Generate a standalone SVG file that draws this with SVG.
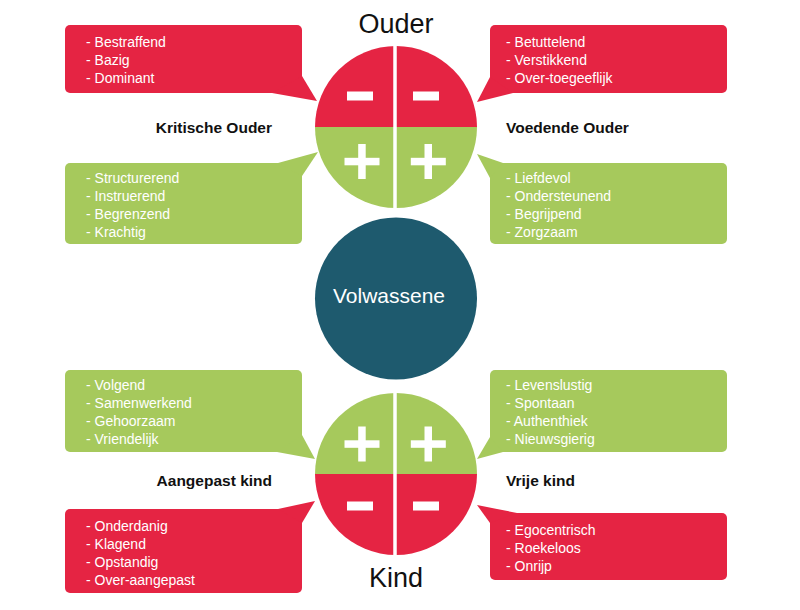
<svg xmlns="http://www.w3.org/2000/svg" width="800" height="610" viewBox="0 0 800 610">
  <style>
    .red { fill: #e52443; }
    .green { fill: #a6c95c; }
    .item { font-family: "Liberation Sans", Arial, sans-serif; font-size: 14px; fill: #ffffff; }
    .label { font-family: "Liberation Sans", Arial, sans-serif; font-size: 15.5px; font-weight: bold; fill: #111111; }
    .title { font-family: "Liberation Sans", Arial, sans-serif; font-size: 27px; fill: #111111; text-anchor: middle; }
    .sign { fill: #ffffff; }
    .gap { stroke: #ffffff; stroke-width: 3.5; }
  </style>
  <rect width="800" height="610" fill="#ffffff"/>

  <!-- titles -->
  <text class="title" x="396" y="33">Ouder</text>
  <text class="title" x="396" y="587">Kind</text>

  <!-- parent circle: four quadrants -->
  <g id="ouder-circle">
    <path class="red" d="M315,127 A81,81 0 0 1 477,127 Z"/>
    <path class="green" d="M315,127 A81,81 0 0 0 477,127 Z"/>
    <line class="gap" x1="395" y1="40" x2="395" y2="215"/>
    <rect class="sign" x="347" y="91.5" width="26" height="9"/>
    <rect class="sign" x="413" y="91.5" width="26" height="9"/>
    <rect class="sign" x="344.5" y="157.8" width="35" height="7.5"/>
    <rect class="sign" x="358.2" y="144" width="7.5" height="35"/>
    <rect class="sign" x="410.8" y="157.8" width="35" height="7.5"/>
    <rect class="sign" x="424.5" y="144" width="7.5" height="35"/>
  </g>

  <!-- adult circle -->
  <g id="volwassene">
    <circle cx="396" cy="298.5" r="81" fill="#1e5a6e"/>
    <text x="389" y="303" font-family="'Liberation Sans', Arial, sans-serif" font-size="21" fill="#ffffff" text-anchor="middle">Volwassene</text>
  </g>

  <!-- child circle: four quadrants -->
  <g id="kind-circle">
    <path class="green" d="M315,474 A81,81 0 0 1 477,474 Z"/>
    <path class="red" d="M315,474 A81,81 0 0 0 477,474 Z"/>
    <line class="gap" x1="395" y1="385" x2="395" y2="562"/>
    <rect class="sign" x="344.5" y="440.3" width="35" height="7.5"/>
    <rect class="sign" x="358.2" y="426.5" width="7.5" height="35"/>
    <rect class="sign" x="410.8" y="440.3" width="35" height="7.5"/>
    <rect class="sign" x="424.5" y="426.5" width="7.5" height="35"/>
    <rect class="sign" x="347" y="501.5" width="26" height="9"/>
    <rect class="sign" x="413" y="501.5" width="26" height="9"/>
  </g>

  <!-- ego-state labels -->
  <text class="label" x="272" y="133" text-anchor="end">Kritische Ouder</text>
  <text class="label" x="506" y="133">Voedende Ouder</text>
  <text class="label" x="272" y="486" text-anchor="end">Aangepast kind</text>
  <text class="label" x="506" y="486">Vrije kind</text>

  <!-- speech bubbles -->
  <g id="kritisch-min">
    <rect class="red" x="65" y="25" width="237" height="68" rx="5"/>
    <polygon class="red" points="272,93 302,76 317,101"/>
    <text class="item" x="86" y="47">- Bestraffend</text>
    <text class="item" x="86" y="65">- Bazig</text>
    <text class="item" x="86" y="83">- Dominant</text>
  </g>

  <g id="kritisch-plus">
    <rect class="green" x="65" y="163" width="237" height="81" rx="5"/>
    <polygon class="green" points="278,163 318,152 302,176"/>
    <text class="item" x="86" y="183">- Structurerend</text>
    <text class="item" x="86" y="201">- Instruerend</text>
    <text class="item" x="86" y="219">- Begrenzend</text>
    <text class="item" x="86" y="237">- Krachtig</text>
  </g>

  <g id="voedend-min">
    <rect class="red" x="490" y="25" width="237" height="68" rx="5"/>
    <polygon class="red" points="490,77 477,102 513,93"/>
    <text class="item" x="506" y="47">- Betuttelend</text>
    <text class="item" x="506" y="65">- Verstikkend</text>
    <text class="item" x="506" y="83">- Over-toegeeflijk</text>
  </g>

  <g id="voedend-plus">
    <rect class="green" x="490" y="163" width="237" height="81" rx="5"/>
    <polygon class="green" points="503,163 477,154 490,178"/>
    <text class="item" x="506" y="183">- Liefdevol</text>
    <text class="item" x="506" y="201">- Ondersteunend</text>
    <text class="item" x="506" y="219">- Begrijpend</text>
    <text class="item" x="506" y="237">- Zorgzaam</text>
  </g>

  <g id="aangepast-plus">
    <rect class="green" x="65" y="370" width="237" height="82" rx="5"/>
    <polygon class="green" points="302,435 315,459 277,452"/>
    <text class="item" x="86" y="390">- Volgend</text>
    <text class="item" x="86" y="408">- Samenwerkend</text>
    <text class="item" x="86" y="426">- Gehoorzaam</text>
    <text class="item" x="86" y="444">- Vriendelijk</text>
  </g>

  <g id="vrij-plus">
    <rect class="green" x="490" y="370" width="237" height="82" rx="5"/>
    <polygon class="green" points="490,437 477,459 503,452"/>
    <text class="item" x="506" y="390">- Levenslustig</text>
    <text class="item" x="506" y="408">- Spontaan</text>
    <text class="item" x="506" y="426">- Authenthiek</text>
    <text class="item" x="506" y="444">- Nieuwsgierig</text>
  </g>

  <g id="aangepast-min">
    <rect class="red" x="65" y="509" width="237" height="84" rx="5"/>
    <polygon class="red" points="278,509 315,501 302,523"/>
    <text class="item" x="86" y="531">- Onderdanig</text>
    <text class="item" x="86" y="549">- Klagend</text>
    <text class="item" x="86" y="567">- Opstandig</text>
    <text class="item" x="86" y="585">- Over-aangepast</text>
  </g>

  <g id="vrij-min">
    <rect class="red" x="490" y="513" width="237" height="67" rx="5"/>
    <polygon class="red" points="517,513 477,505 490,523"/>
    <text class="item" x="506" y="535">- Egocentrisch</text>
    <text class="item" x="506" y="553">- Roekeloos</text>
    <text class="item" x="506" y="571">- Onrijp</text>
  </g>
</svg>
